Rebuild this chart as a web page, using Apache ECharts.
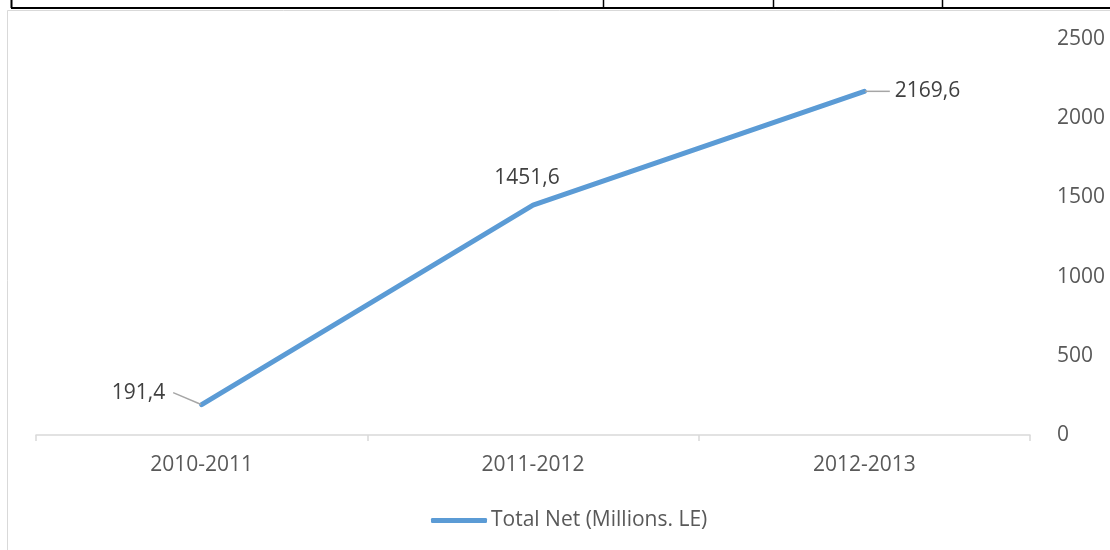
<!DOCTYPE html>
<html>
<head>
<meta charset="utf-8">
<script src="https://cdn.jsdelivr.net/npm/echarts@6/dist/echarts.min.js"></script>
<style>
html,body{margin:0;padding:0;background:#fff;}
#c{width:1110px;height:550px;}
</style>
</head>
<body>
<div id="c"></div>
<script>
const categories = ['2010-2011', '2011-2012', '2012-2013'];
const totalNet = [191.4, 1451.6, 2169.6];
const seriesName = 'Total Net (Millions. LE)';
const yTicks = [0, 500, 1000, 1500, 2000, 2500];

const FONT = 'Open Sans';
const chart = echarts.init(document.getElementById('c'));

const fmt = v => String(v.toFixed(1)).replace('.', ',');

const labelCfg = [
  { position: 'left', distance: 28, dx: 0, dy: -12, padding: [0, 8, 0, 0] },
  { position: 'top', distance: 16, dx: -6, dy: 0, padding: 0 },
  { position: 'right', distance: 25, dx: 0, dy: 0, padding: [0, 0, 0, 5] }
];

chart.setOption({
  animation: false,
  backgroundColor: '#fff',
  textStyle: { fontFamily: FONT },
  graphic: [
    { type: 'rect', shape: { x: 7.5, y: 10.5, width: 1200, height: 700 }, style: { fill: 'none', stroke: '#d9d9d9', lineWidth: 1 }, silent: true },
    { type: 'line', shape: { x1: 11, y1: 8, x2: 1110, y2: 8 }, style: { stroke: '#000', lineWidth: 2 }, silent: true },
    { type: 'line', shape: { x1: 11.5, y1: 0, x2: 11.5, y2: 8 }, style: { stroke: '#000', lineWidth: 2 }, silent: true },
    { type: 'line', shape: { x1: 603.5, y1: 0, x2: 603.5, y2: 8 }, style: { stroke: '#000', lineWidth: 1.5 }, silent: true },
    { type: 'line', shape: { x1: 773.5, y1: 0, x2: 773.5, y2: 8 }, style: { stroke: '#000', lineWidth: 1.5 }, silent: true },
    { type: 'line', shape: { x1: 942.5, y1: 0, x2: 942.5, y2: 8 }, style: { stroke: '#000', lineWidth: 1.5 }, silent: true }
  ],
  grid: { left: 36, right: 80, top: 39, bottom: 115, containLabel: false },
  legend: {
    bottom: 14,
    left: 426,
    itemWidth: 56,
    itemHeight: 5,
    itemGap: 2,
    icon: 'roundRect',
    textStyle: { fontFamily: FONT, fontSize: 21, color: '#595959', padding: [0, 0, 0, -1] },
    data: [{ name: seriesName, icon: 'roundRect' }]
  },
  xAxis: {
    type: 'category',
    data: categories,
    boundaryGap: true,
    axisLine: { lineStyle: { color: '#d9d9d9', width: 1.5 } },
    axisTick: { show: true, length: 6, lineStyle: { color: '#d9d9d9', width: 1.5 } },
    axisLabel: { fontFamily: FONT, fontSize: 21, color: '#595959', margin: 20 },
    splitLine: { show: false }
  },
  yAxis: {
    type: 'value',
    position: 'right',
    min: 0, max: 2500, interval: 500,
    axisLine: { show: false },
    axisTick: { show: false },
    splitLine: { show: false },
    axisLabel: { fontFamily: FONT, fontSize: 21, color: '#595959', margin: 27, align: 'left',
      formatter: v => yTicks.includes(v) ? String(v) : '' }
  },
  series: [{
    name: seriesName,
    type: 'line',
    data: totalNet.map((v, i) => ({
      value: v,
      label: { position: labelCfg[i].position, distance: labelCfg[i].distance, padding: labelCfg[i].padding,
               backgroundColor: 'rgba(255,255,255,0)' },
      labelLine: { show: i !== 1 }
    })),
    symbol: 'circle',
    symbolSize: 1,
    showSymbol: true,
    color: '#5B9BD5',
    lineStyle: { color: '#5B9BD5', width: 5, cap: 'round', join: 'round' },
    itemStyle: { color: '#5B9BD5' },
    label: {
      show: true,
      fontFamily: FONT,
      fontSize: 21,
      color: '#404040',
      formatter: p => fmt(p.value)
    },
    labelLine: { show: true, lineStyle: { color: '#a6a6a6', width: 1.5 } },
    labelLayout: p => ({ dx: labelCfg[p.dataIndex].dx, dy: labelCfg[p.dataIndex].dy })
  }]
});
</script>
</body>
</html>
